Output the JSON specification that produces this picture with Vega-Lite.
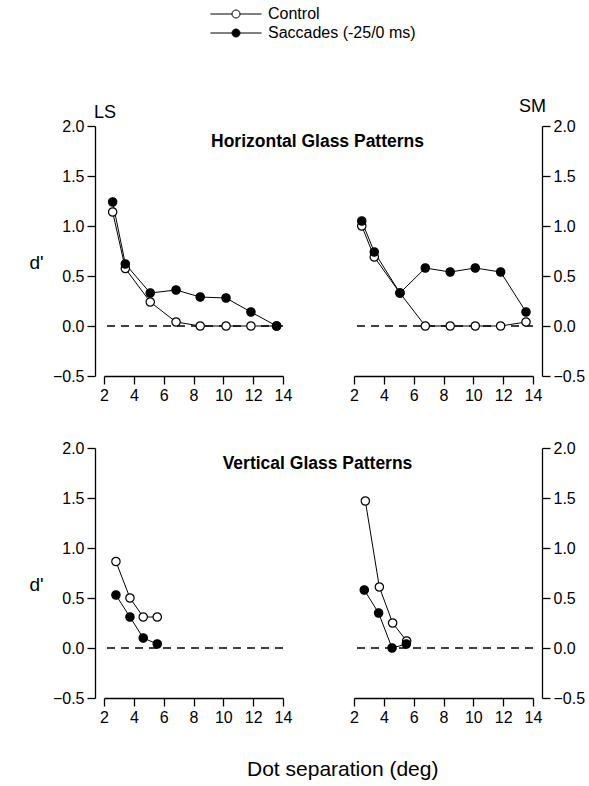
{
  "$schema": "https://vega.github.io/schema/vega-lite/v6.json",
  "padding": {"left": 28, "top": 6, "right": 5, "bottom": 5},
  "background": "white",
  "data": {"values": [
    {"pattern": "Horizontal", "observer": "LS", "condition": "Control", "separation": 2.58, "dprime": 1.14},
    {"pattern": "Horizontal", "observer": "LS", "condition": "Control", "separation": 3.43, "dprime": 0.575},
    {"pattern": "Horizontal", "observer": "LS", "condition": "Control", "separation": 5.10, "dprime": 0.24},
    {"pattern": "Horizontal", "observer": "LS", "condition": "Control", "separation": 6.83, "dprime": 0.04},
    {"pattern": "Horizontal", "observer": "LS", "condition": "Control", "separation": 8.45, "dprime": 0.0},
    {"pattern": "Horizontal", "observer": "LS", "condition": "Control", "separation": 10.18, "dprime": 0.0},
    {"pattern": "Horizontal", "observer": "LS", "condition": "Control", "separation": 11.85, "dprime": 0.0},
    {"pattern": "Horizontal", "observer": "LS", "condition": "Control", "separation": 13.57, "dprime": 0.0},
    {"pattern": "Horizontal", "observer": "SM", "condition": "Control", "separation": 2.52, "dprime": 1.0},
    {"pattern": "Horizontal", "observer": "SM", "condition": "Control", "separation": 3.36, "dprime": 0.69},
    {"pattern": "Horizontal", "observer": "SM", "condition": "Control", "separation": 5.08, "dprime": 0.33},
    {"pattern": "Horizontal", "observer": "SM", "condition": "Control", "separation": 6.78, "dprime": 0.0},
    {"pattern": "Horizontal", "observer": "SM", "condition": "Control", "separation": 8.45, "dprime": 0.0},
    {"pattern": "Horizontal", "observer": "SM", "condition": "Control", "separation": 10.13, "dprime": 0.0},
    {"pattern": "Horizontal", "observer": "SM", "condition": "Control", "separation": 11.83, "dprime": 0.0},
    {"pattern": "Horizontal", "observer": "SM", "condition": "Control", "separation": 13.53, "dprime": 0.04},
    {"pattern": "Vertical", "observer": "LS", "condition": "Control", "separation": 2.80, "dprime": 0.865},
    {"pattern": "Vertical", "observer": "LS", "condition": "Control", "separation": 3.74, "dprime": 0.50},
    {"pattern": "Vertical", "observer": "LS", "condition": "Control", "separation": 4.63, "dprime": 0.31},
    {"pattern": "Vertical", "observer": "LS", "condition": "Control", "separation": 5.57, "dprime": 0.31},
    {"pattern": "Vertical", "observer": "SM", "condition": "Control", "separation": 2.76, "dprime": 1.47},
    {"pattern": "Vertical", "observer": "SM", "condition": "Control", "separation": 3.70, "dprime": 0.61},
    {"pattern": "Vertical", "observer": "SM", "condition": "Control", "separation": 4.59, "dprime": 0.25},
    {"pattern": "Vertical", "observer": "SM", "condition": "Control", "separation": 5.53, "dprime": 0.07},
    {"pattern": "Horizontal", "observer": "LS", "condition": "Saccades (-25/0 ms)", "separation": 2.58, "dprime": 1.24},
    {"pattern": "Horizontal", "observer": "LS", "condition": "Saccades (-25/0 ms)", "separation": 3.43, "dprime": 0.62},
    {"pattern": "Horizontal", "observer": "LS", "condition": "Saccades (-25/0 ms)", "separation": 5.10, "dprime": 0.33},
    {"pattern": "Horizontal", "observer": "LS", "condition": "Saccades (-25/0 ms)", "separation": 6.83, "dprime": 0.36},
    {"pattern": "Horizontal", "observer": "LS", "condition": "Saccades (-25/0 ms)", "separation": 8.45, "dprime": 0.29},
    {"pattern": "Horizontal", "observer": "LS", "condition": "Saccades (-25/0 ms)", "separation": 10.18, "dprime": 0.28},
    {"pattern": "Horizontal", "observer": "LS", "condition": "Saccades (-25/0 ms)", "separation": 11.85, "dprime": 0.14},
    {"pattern": "Horizontal", "observer": "LS", "condition": "Saccades (-25/0 ms)", "separation": 13.57, "dprime": 0.0},
    {"pattern": "Horizontal", "observer": "SM", "condition": "Saccades (-25/0 ms)", "separation": 2.52, "dprime": 1.05},
    {"pattern": "Horizontal", "observer": "SM", "condition": "Saccades (-25/0 ms)", "separation": 3.36, "dprime": 0.74},
    {"pattern": "Horizontal", "observer": "SM", "condition": "Saccades (-25/0 ms)", "separation": 5.08, "dprime": 0.33},
    {"pattern": "Horizontal", "observer": "SM", "condition": "Saccades (-25/0 ms)", "separation": 6.78, "dprime": 0.58},
    {"pattern": "Horizontal", "observer": "SM", "condition": "Saccades (-25/0 ms)", "separation": 8.45, "dprime": 0.54},
    {"pattern": "Horizontal", "observer": "SM", "condition": "Saccades (-25/0 ms)", "separation": 10.13, "dprime": 0.58},
    {"pattern": "Horizontal", "observer": "SM", "condition": "Saccades (-25/0 ms)", "separation": 11.83, "dprime": 0.54},
    {"pattern": "Horizontal", "observer": "SM", "condition": "Saccades (-25/0 ms)", "separation": 13.53, "dprime": 0.14},
    {"pattern": "Vertical", "observer": "LS", "condition": "Saccades (-25/0 ms)", "separation": 2.80, "dprime": 0.53},
    {"pattern": "Vertical", "observer": "LS", "condition": "Saccades (-25/0 ms)", "separation": 3.74, "dprime": 0.31},
    {"pattern": "Vertical", "observer": "LS", "condition": "Saccades (-25/0 ms)", "separation": 4.63, "dprime": 0.10},
    {"pattern": "Vertical", "observer": "LS", "condition": "Saccades (-25/0 ms)", "separation": 5.57, "dprime": 0.04},
    {"pattern": "Vertical", "observer": "SM", "condition": "Saccades (-25/0 ms)", "separation": 2.69, "dprime": 0.58},
    {"pattern": "Vertical", "observer": "SM", "condition": "Saccades (-25/0 ms)", "separation": 3.65, "dprime": 0.35},
    {"pattern": "Vertical", "observer": "SM", "condition": "Saccades (-25/0 ms)", "separation": 4.55, "dprime": 0.0},
    {"pattern": "Vertical", "observer": "SM", "condition": "Saccades (-25/0 ms)", "separation": 5.51, "dprime": 0.04}
  ]},
  "columns": 2,
  "bounds": "flush",
  "spacing": {"row": 72, "column": 71},
  "title": {"text": "Dot separation (deg)", "orient": "bottom", "anchor": "middle", "frame": "bounds", "fontSize": 21, "fontWeight": "normal", "offset": 34, "dx": 36, "color": "black"},
  "concat": [
    {
      "width": 179, "height": 250,
      "title": {"text": "LS", "anchor": "start", "frame": "group", "dx": -10, "offset": -4, "fontSize": 18, "fontWeight": "normal", "color": "black"},
      "layer": [
        {"data": {"values": [{"reference": "zero"}]},
         "mark": {"type": "rule", "strokeDash": [8, 6], "strokeWidth": 1.4, "color": "black"},
         "encoding": {"y": {"datum": 0, "type": "quantitative"}}},
        {"transform": [{"filter": "datum.pattern === 'Horizontal' && datum.observer === 'LS'"}],
         "mark": {"type": "line", "color": "black", "strokeWidth": 1},
         "encoding": {
           "x": {"field": "separation", "type": "quantitative", "scale": {"domain": [2, 14], "nice": false, "zero": false},
                 "axis": {"values": [2, 4, 6, 8, 10, 12, 14], "format": "d", "labelFlush": false, "title": "Horizontal Glass Patterns", "titleX": 213, "titleY": -235, "titleAlign": "center", "titleBaseline": "middle", "titleFontWeight": "bold", "titleFontSize": 17.5}},
           "y": {"field": "dprime", "type": "quantitative", "scale": {"domain": [-0.5, 2], "nice": false, "zero": false},
                 "axis": {"orient": "left", "offset": 9, "values": [-0.5, 0, 0.5, 1, 1.5, 2], "format": ".1f", "title": "d'", "titleAngle": 0, "titleX": -59, "titleY": 136, "titleAlign": "center", "titleBaseline": "middle", "titleFontSize": 19}},
           "detail": {"field": "condition"}
         }},
        {"transform": [{"filter": "datum.pattern === 'Horizontal' && datum.observer === 'LS'"}],
         "mark": {"type": "circle", "size": 70, "stroke": "black", "strokeWidth": 1.2, "opacity": 1},
         "encoding": {
           "x": {"field": "separation", "type": "quantitative", "scale": {"domain": [2, 14], "nice": false, "zero": false},
                 "axis": {"values": [2, 4, 6, 8, 10, 12, 14], "format": "d", "labelFlush": false, "title": "Horizontal Glass Patterns", "titleX": 213, "titleY": -235, "titleAlign": "center", "titleBaseline": "middle", "titleFontWeight": "bold", "titleFontSize": 17.5}},
           "y": {"field": "dprime", "type": "quantitative", "scale": {"domain": [-0.5, 2], "nice": false, "zero": false},
                 "axis": {"orient": "left", "offset": 9, "values": [-0.5, 0, 0.5, 1, 1.5, 2], "format": ".1f", "title": "d'", "titleAngle": 0, "titleX": -59, "titleY": 136, "titleAlign": "center", "titleBaseline": "middle", "titleFontSize": 19}},
           "fill": {"field": "condition", "type": "nominal", "scale": {"domain": ["Control", "Saccades (-25/0 ms)"], "range": ["white", "black"]},
                    "legend": {"title": null, "orient": "none", "legendX": 124, "legendY": -120, "symbolType": "M-6.4,0L-1,0M1,0L6.4,0M-1,0A1,1,0,1,0,1,0A1,1,0,1,0,-1,0Z", "symbolSize": 64, "symbolStrokeColor": "black", "symbolStrokeWidth": 1, "labelFontSize": 16, "labelOffset": 24, "rowPadding": 3, "padding": 0, "labelColor": "black"}}
         }}
      ]
    },
    {
      "width": 179, "height": 250,
      "title": {"text": "SM", "anchor": "end", "frame": "group", "dx": 13, "offset": 2, "fontSize": 18, "fontWeight": "normal", "color": "black"},
      "layer": [
        {"data": {"values": [{"reference": "zero"}]},
         "mark": {"type": "rule", "strokeDash": [8, 6], "strokeWidth": 1.4, "color": "black"},
         "encoding": {"y": {"datum": 0, "type": "quantitative"}}},
        {"transform": [{"filter": "datum.pattern === 'Horizontal' && datum.observer === 'SM'"}],
         "mark": {"type": "line", "color": "black", "strokeWidth": 1},
         "encoding": {
           "x": {"field": "separation", "type": "quantitative", "scale": {"domain": [2, 14], "nice": false, "zero": false},
                 "axis": {"values": [2, 4, 6, 8, 10, 12, 14], "format": "d", "labelFlush": false, "title": null}},
           "y": {"field": "dprime", "type": "quantitative", "scale": {"domain": [-0.5, 2], "nice": false, "zero": false},
                 "axis": {"orient": "right", "offset": 9, "values": [-0.5, 0, 0.5, 1, 1.5, 2], "format": ".1f", "title": null}},
           "detail": {"field": "condition"}
         }},
        {"transform": [{"filter": "datum.pattern === 'Horizontal' && datum.observer === 'SM'"}],
         "mark": {"type": "circle", "size": 70, "stroke": "black", "strokeWidth": 1.2, "opacity": 1},
         "encoding": {
           "x": {"field": "separation", "type": "quantitative", "scale": {"domain": [2, 14], "nice": false, "zero": false},
                 "axis": {"values": [2, 4, 6, 8, 10, 12, 14], "format": "d", "labelFlush": false, "title": null}},
           "y": {"field": "dprime", "type": "quantitative", "scale": {"domain": [-0.5, 2], "nice": false, "zero": false},
                 "axis": {"orient": "right", "offset": 9, "values": [-0.5, 0, 0.5, 1, 1.5, 2], "format": ".1f", "title": null}},
           "fill": {"field": "condition", "type": "nominal", "scale": {"domain": ["Control", "Saccades (-25/0 ms)"], "range": ["white", "black"]},
                    "legend": {"title": null, "orient": "none", "legendX": 124, "legendY": -120, "symbolType": "M-6.4,0L-1,0M1,0L6.4,0M-1,0A1,1,0,1,0,1,0A1,1,0,1,0,-1,0Z", "symbolSize": 64, "symbolStrokeColor": "black", "symbolStrokeWidth": 1, "labelFontSize": 16, "labelOffset": 24, "rowPadding": 3, "padding": 0, "labelColor": "black"}}
         }}
      ]
    },
    {
      "width": 179, "height": 250,
      "layer": [
        {"data": {"values": [{"reference": "zero"}]},
         "mark": {"type": "rule", "strokeDash": [8, 6], "strokeWidth": 1.4, "color": "black"},
         "encoding": {"y": {"datum": 0, "type": "quantitative"}}},
        {"transform": [{"filter": "datum.pattern === 'Vertical' && datum.observer === 'LS'"}],
         "mark": {"type": "line", "color": "black", "strokeWidth": 1},
         "encoding": {
           "x": {"field": "separation", "type": "quantitative", "scale": {"domain": [2, 14], "nice": false, "zero": false},
                 "axis": {"values": [2, 4, 6, 8, 10, 12, 14], "format": "d", "labelFlush": false, "title": "Vertical Glass Patterns", "titleX": 213, "titleY": -235, "titleAlign": "center", "titleBaseline": "middle", "titleFontWeight": "bold", "titleFontSize": 17.5}},
           "y": {"field": "dprime", "type": "quantitative", "scale": {"domain": [-0.5, 2], "nice": false, "zero": false},
                 "axis": {"orient": "left", "offset": 9, "values": [-0.5, 0, 0.5, 1, 1.5, 2], "format": ".1f", "title": "d'", "titleAngle": 0, "titleX": -59, "titleY": 136, "titleAlign": "center", "titleBaseline": "middle", "titleFontSize": 19}},
           "detail": {"field": "condition"}
         }},
        {"transform": [{"filter": "datum.pattern === 'Vertical' && datum.observer === 'LS'"}],
         "mark": {"type": "circle", "size": 70, "stroke": "black", "strokeWidth": 1.2, "opacity": 1},
         "encoding": {
           "x": {"field": "separation", "type": "quantitative", "scale": {"domain": [2, 14], "nice": false, "zero": false},
                 "axis": {"values": [2, 4, 6, 8, 10, 12, 14], "format": "d", "labelFlush": false, "title": "Vertical Glass Patterns", "titleX": 213, "titleY": -235, "titleAlign": "center", "titleBaseline": "middle", "titleFontWeight": "bold", "titleFontSize": 17.5}},
           "y": {"field": "dprime", "type": "quantitative", "scale": {"domain": [-0.5, 2], "nice": false, "zero": false},
                 "axis": {"orient": "left", "offset": 9, "values": [-0.5, 0, 0.5, 1, 1.5, 2], "format": ".1f", "title": "d'", "titleAngle": 0, "titleX": -59, "titleY": 136, "titleAlign": "center", "titleBaseline": "middle", "titleFontSize": 19}},
           "fill": {"field": "condition", "type": "nominal", "scale": {"domain": ["Control", "Saccades (-25/0 ms)"], "range": ["white", "black"]},
                    "legend": {"title": null, "orient": "none", "legendX": 124, "legendY": -120, "symbolType": "M-6.4,0L-1,0M1,0L6.4,0M-1,0A1,1,0,1,0,1,0A1,1,0,1,0,-1,0Z", "symbolSize": 64, "symbolStrokeColor": "black", "symbolStrokeWidth": 1, "labelFontSize": 16, "labelOffset": 24, "rowPadding": 3, "padding": 0, "labelColor": "black"}}
         }}
      ]
    },
    {
      "width": 179, "height": 250,
      "layer": [
        {"data": {"values": [{"reference": "zero"}]},
         "mark": {"type": "rule", "strokeDash": [8, 6], "strokeWidth": 1.4, "color": "black"},
         "encoding": {"y": {"datum": 0, "type": "quantitative"}}},
        {"transform": [{"filter": "datum.pattern === 'Vertical' && datum.observer === 'SM'"}],
         "mark": {"type": "line", "color": "black", "strokeWidth": 1},
         "encoding": {
           "x": {"field": "separation", "type": "quantitative", "scale": {"domain": [2, 14], "nice": false, "zero": false},
                 "axis": {"values": [2, 4, 6, 8, 10, 12, 14], "format": "d", "labelFlush": false, "title": null}},
           "y": {"field": "dprime", "type": "quantitative", "scale": {"domain": [-0.5, 2], "nice": false, "zero": false},
                 "axis": {"orient": "right", "offset": 9, "values": [-0.5, 0, 0.5, 1, 1.5, 2], "format": ".1f", "title": null}},
           "detail": {"field": "condition"}
         }},
        {"transform": [{"filter": "datum.pattern === 'Vertical' && datum.observer === 'SM'"}],
         "mark": {"type": "circle", "size": 70, "stroke": "black", "strokeWidth": 1.2, "opacity": 1},
         "encoding": {
           "x": {"field": "separation", "type": "quantitative", "scale": {"domain": [2, 14], "nice": false, "zero": false},
                 "axis": {"values": [2, 4, 6, 8, 10, 12, 14], "format": "d", "labelFlush": false, "title": null}},
           "y": {"field": "dprime", "type": "quantitative", "scale": {"domain": [-0.5, 2], "nice": false, "zero": false},
                 "axis": {"orient": "right", "offset": 9, "values": [-0.5, 0, 0.5, 1, 1.5, 2], "format": ".1f", "title": null}},
           "fill": {"field": "condition", "type": "nominal", "scale": {"domain": ["Control", "Saccades (-25/0 ms)"], "range": ["white", "black"]},
                    "legend": {"title": null, "orient": "none", "legendX": 124, "legendY": -120, "symbolType": "M-6.4,0L-1,0M1,0L6.4,0M-1,0A1,1,0,1,0,1,0A1,1,0,1,0,-1,0Z", "symbolSize": 64, "symbolStrokeColor": "black", "symbolStrokeWidth": 1, "labelFontSize": 16, "labelOffset": 24, "rowPadding": 3, "padding": 0, "labelColor": "black"}}
         }}
      ]
    }
  ],
  "config": {
    "font": "Liberation Sans",
    "view": {"stroke": null},
    "axis": {"domainColor": "black", "tickColor": "black", "labelColor": "black", "titleColor": "black", "grid": false, "domainWidth": 1.3, "tickWidth": 1.3, "tickSize": 8, "labelFontSize": 16, "labelPadding": 3, "titleFontWeight": "normal", "labelFont": "Liberation Sans", "titleFont": "Liberation Sans"},
    "legend": {"labelFont": "Liberation Sans"},
    "title": {"font": "Liberation Sans"}
  }
}
